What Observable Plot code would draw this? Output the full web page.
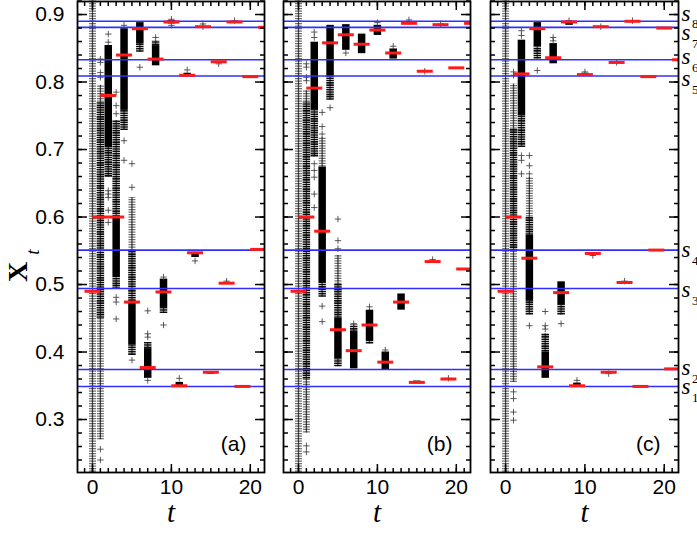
<!DOCTYPE html>
<html><head><meta charset="utf-8">
<script src="https://cdn.jsdelivr.net/npm/d3@7"></script>
<script src="https://cdn.jsdelivr.net/npm/@observablehq/plot@0.6"></script>
<style>
body{margin:0;background:#fff;}
#wrap{position:relative;width:697px;height:538px;overflow:hidden;background:#fff;}
.panel{position:absolute;top:0;}
</style></head><body><div id="wrap"></div>
<script>
// ---------- data ----------
const steps = [0,1,2,3,4,5,6,7,8,9,10,11,12,13,14,15,16,17,18,19,20,21,22];
const meanA = [0.490,0.600,0.780,0.600,0.840,0.474,0.879,0.377,0.834,0.489,0.889,0.350,0.810,0.547,0.882,0.370,0.830,0.502,0.889,0.349,0.808,0.552,0.881];
const meanB = [0.490,0.600,0.791,0.579,0.858,0.433,0.870,0.402,0.856,0.440,0.877,0.385,0.843,0.474,0.887,0.355,0.816,0.534,0.885,0.360,0.821,0.523,0.887];
const meanC = [0.490,0.600,0.812,0.539,0.879,0.378,0.836,0.488,0.889,0.350,0.811,0.546,0.882,0.370,0.829,0.503,0.890,0.349,0.808,0.551,0.880,0.375,0.833];
const sLevels = [0.349,0.374,0.494,0.551,0.809,0.833,0.881,0.890];
const sNames = ["1","2","3","4","5","6","7","8"];
const panelNames = ["(a)","(b)","(c)"];
const yMajor = [0.3,0.4,0.5,0.6,0.7,0.8,0.9];
const xMajor = [0,10,20];
// point-cloud extents per step: [t, low, high, density] (l = sparse, d = dense, s = saturated)
const bandsA = [
 [0,0.222,0.920,"l"],
 [1,0.770,0.795,"l"],[1,0.450,0.770,"d"],[1,0.270,0.450,"l"],
 [2,0.703,0.854,"s"],[2,0.659,0.703,"d"],
 [3,0.600,0.743,"d"],[3,0.510,0.600,"s"],[3,0.493,0.510,"d"],
 [4,0.758,0.879,"s"],[4,0.728,0.758,"d"],
 [5,0.550,0.629,"l"],[5,0.475,0.550,"d"],[5,0.410,0.475,"s"],[5,0.395,0.410,"d"],
 [6,0.857,0.888,"s"],[6,0.844,0.857,"d"],
 [7,0.405,0.414,"d"],[7,0.361,0.405,"s"],
 [8,0.854,0.861,"d"],[8,0.824,0.854,"s"],
 [9,0.466,0.508,"s"],[9,0.457,0.466,"d"],
 [10,0.886,0.891,"s"],[11,0.350,0.355,"s"],[12,0.809,0.813,"s"],[13,0.540,0.545,"s"],[15,0.367,0.370,"s"]
];
const plusA = [
 [1,0.834],[1,0.829],[1,0.814],[1,0.807],[1,0.256],[1,0.240],
 [2,0.871],[2,0.859],[2,0.639],[2,0.634],[2,0.629],[2,0.610],[2,0.592],
 [3,0.785],[3,0.765],[3,0.753],[3,0.481],[3,0.474],[3,0.449],
 [4,0.884],[4,0.713],[4,0.684],
 [5,0.679],[5,0.644],[5,0.388],
 [6,0.822],
 [7,0.461],[7,0.427],[7,0.422],[7,0.358],
 [8,0.866],
 [9,0.511],[9,0.440],
 [10,0.893],[10,0.884],[11,0.361],[12,0.818],[13,0.535],[14,0.882],[14,0.886],[16,0.827],[17,0.505],[18,0.891]
];
const bandsB = [
 [0,0.222,0.920,"l"],
 [1,0.770,0.787,"l"],[1,0.360,0.770,"d"],[1,0.280,0.360,"l"],
 [2,0.758,0.859,"s"],[2,0.689,0.758,"d"],
 [3,0.674,0.718,"l"],[3,0.503,0.674,"s"],[3,0.481,0.503,"d"],
 [4,0.807,0.884,"s"],[4,0.773,0.807,"d"],
 [5,0.500,0.543,"l"],[5,0.450,0.500,"d"],[5,0.390,0.450,"s"],[5,0.378,0.390,"d"],
 [6,0.847,0.885,"s"],
 [7,0.429,0.440,"d"],[7,0.375,0.429,"s"],
 [8,0.842,0.871,"s"],
 [9,0.417,0.462,"s"],[9,0.412,0.417,"d"],
 [10,0.869,0.884,"s"],[11,0.373,0.400,"s"],[12,0.834,0.849,"s"],[13,0.462,0.486,"s"],
 [14,0.885,0.889,"s"],[15,0.353,0.357,"s"]
];
const plusB = [
 [1,0.827],[1,0.822],[1,0.807],[1,0.802],[1,0.261],[1,0.252],
 [2,0.874],[2,0.866],[2,0.679],[2,0.669],[2,0.659],[2,0.634],[2,0.614],
 [3,0.755],[3,0.734],[3,0.723],[3,0.468],[3,0.445],
 [4,0.762],
 [5,0.597],[5,0.565],[5,0.553],
 [6,0.843],[7,0.442],[9,0.467],[10,0.888],[11,0.403],[12,0.853],[14,0.892],[16,0.816],[17,0.537],[18,0.886],[19,0.361]
];
const bandsC = [
 [0,0.222,0.920,"l"],
 [1,0.730,0.797,"l"],[1,0.550,0.730,"d"],[1,0.355,0.550,"l"],
 [2,0.750,0.862,"s"],[2,0.703,0.750,"d"],
 [3,0.600,0.659,"l"],[3,0.573,0.600,"d"],[3,0.475,0.573,"s"],[3,0.455,0.475,"d"],
 [4,0.852,0.888,"s"],[4,0.834,0.852,"d"],
 [5,0.400,0.427,"d"],[5,0.361,0.400,"s"],
 [6,0.827,0.857,"s"],
 [7,0.469,0.504,"s"],[7,0.455,0.469,"d"],
 [8,0.884,0.888,"s"],[9,0.349,0.354,"s"],[10,0.810,0.813,"s"]
];
const plusC = [
 [1,0.815],[1,0.810],[1,0.341],[1,0.331],[1,0.311],[1,0.299],
 [2,0.876],[2,0.869],[2,0.691],[2,0.684],[2,0.664],
 [3,0.691],[3,0.676],[3,0.664],[3,0.439],
 [4,0.817],
 [5,0.460],[5,0.439],[5,0.434],
 [6,0.866],[6,0.861],
 [7,0.442],
 [8,0.891],[9,0.358],[10,0.815],[11,0.543],[12,0.882],[13,0.368],[14,0.829],[15,0.505],[16,0.891]
];

// ---------- layout / style ----------
const X_DOMAIN = [-1.9, 21.8];
const Y_DOMAIN = [0.2215, 0.9193];
const yMinor = d3.range(0.24, 0.921, 0.02);
const xMinor = d3.range(-1, 22);
const labelDy = [0, -2, 1, 0, 3, -3, 5, -8];
const plusSymbol = {draw(c){c.moveTo(-3.2,0);c.lineTo(3.2,0);c.moveTo(0,-3.2);c.lineTo(0,3.2);}};
const barSymbol = {draw(c){c.moveTo(-8,0);c.lineTo(8,0);}};
const SERIF = "'Liberation Serif','DejaVu Serif',serif";
const SANS = "'Liberation Sans',Arial,sans-serif";

function makePanel(o){
  const bands = o.bands.map(([t,lo,hi,k])=>({t,lo,hi,k}));
  const pts = o.plus.map(([t,y])=>({t,y}));
  const means = steps.map((t,i)=>({t, y:o.means[i]}));
  const tickOpts = {tickFormat:()=>"", strokeWidth:1.5, label:null};
  const marks = [
    Plot.ruleX(bands.filter(d=>d.k!=="s"), {x:"t",y1:"lo",y2:"hi",stroke:"#222",strokeOpacity:0.8,strokeWidth:1.3}),
    Plot.ruleX(bands.filter(d=>d.k==="l"), {x:"t",y1:"lo",y2:"hi",stroke:"#000",strokeOpacity:0.55,strokeWidth:7,strokeDasharray:"1.2 1.3"}),
    Plot.ruleX(bands.filter(d=>d.k==="d"), {x:"t",y1:"lo",y2:"hi",stroke:"#000",strokeOpacity:0.95,strokeWidth:7.5,strokeDasharray:"1.6 0.7"}),
    Plot.ruleX(bands.filter(d=>d.k==="s"), {x:"t",y1:"lo",y2:"hi",stroke:"#000",strokeWidth:7.5}),
    Plot.dot(pts, {x:"t",y:"y",symbol:plusSymbol,fill:"none",stroke:"#333",strokeOpacity:0.8,strokeWidth:1}),
    Plot.ruleY(sLevels, {stroke:"#2f2fff",strokeWidth:1.6}),
    Plot.dot(means, {x:"t",y:"y",symbol:barSymbol,fill:"none",stroke:"#ff1a1a",strokeWidth:3,clip:true}),
    Plot.frame({stroke:"#000",strokeWidth:1.8}),
    Plot.axisY(yMinor, {anchor:"left", tickSize:-5, ...tickOpts}),
    Plot.axisY(yMajor, {anchor:"left", tickSize:-10, ...tickOpts}),
    Plot.axisY(yMinor, {anchor:"right", tickSize:-5, ...tickOpts}),
    Plot.axisY(yMajor, {anchor:"right", tickSize:-10, ...tickOpts}),
    Plot.axisX(xMinor, {anchor:"bottom", tickSize:-4, ...tickOpts}),
    Plot.axisX(xMajor, {anchor:"bottom", tickSize:-8, ...tickOpts}),
    Plot.axisX(xMinor, {anchor:"top", tickSize:-4, ...tickOpts}),
    Plot.axisX(xMajor, {anchor:"top", tickSize:-8, ...tickOpts}),
    Plot.axisX(xMajor, {anchor:"bottom", tickSize:0, tickPadding:7, fontSize:21, fontFamily:SANS, label:null}),
    Plot.text([o.name], {frameAnchor:"bottom-right", text:d=>d, dx:-18, dy:-22, textAnchor:"end", fontSize:21, fontFamily:SANS}),
    Plot.text(["t"], {frameAnchor:"bottom", text:d=>d, dy:49, fontSize:29, fontStyle:"italic", fontFamily:SERIF})
  ];
  if (o.yLabels) {
    marks.push(Plot.axisY(yMajor, {anchor:"left", tickSize:0, tickPadding:13, tickFormat:d=>d.toFixed(1), fontSize:21, fontFamily:SANS, label:null}));
  }
  if (o.sLabels) {
    sLevels.forEach((v,i)=>{
      marks.push(Plot.text([v], {x:X_DOMAIN[1], y:d=>d, text:()=>"s", dx:3, dy:labelDy[i], textAnchor:"start", fontSize:23, fontStyle:"italic", fontFamily:SERIF}));
      marks.push(Plot.text([v], {x:X_DOMAIN[1], y:d=>d, text:()=>sNames[i], dx:13.5, dy:labelDy[i]+11, textAnchor:"start", fontSize:13, fontFamily:SERIF}));
    });
  }
  const svg = Plot.plot({
    width:o.width, height:538,
    marginTop:1, marginBottom:66, marginLeft:o.ml, marginRight:o.mr,
    x:{domain:X_DOMAIN, label:null},
    y:{domain:Y_DOMAIN, label:null},
    style:{fontFamily:SANS, fontSize:"19px", background:"transparent", overflow:"visible", color:"#000"},
    marks
  });
  const div = document.createElement("div");
  div.className = "panel";
  div.style.left = o.left + "px";
  div.appendChild(svg);
  document.getElementById("wrap").appendChild(div);
  return svg;
}

const svgA = makePanel({name:panelNames[0], bands:bandsA, plus:plusA, means:meanA, left:0, width:272, ml:77, mr:8, yLabels:true});
makePanel({name:panelNames[1], bands:bandsB, plus:plusB, means:meanB, left:274, width:204, ml:9, mr:8});
makePanel({name:panelNames[2], bands:bandsC, plus:plusC, means:meanC, left:480, width:217, ml:10, mr:19, sLabels:true});

// y-axis title: bold X with italic subscript t
const g = d3.select(svgA).append("g").attr("font-family", SERIF).attr("fill", "#000");
g.append("text").attr("transform","translate(27,272) rotate(-90)").attr("font-size",28).attr("font-weight","bold").text("X");
g.append("text").attr("transform","translate(39,252) rotate(-90)").attr("font-size",19).attr("font-style","italic").text("t");
</script>
</body></html>
